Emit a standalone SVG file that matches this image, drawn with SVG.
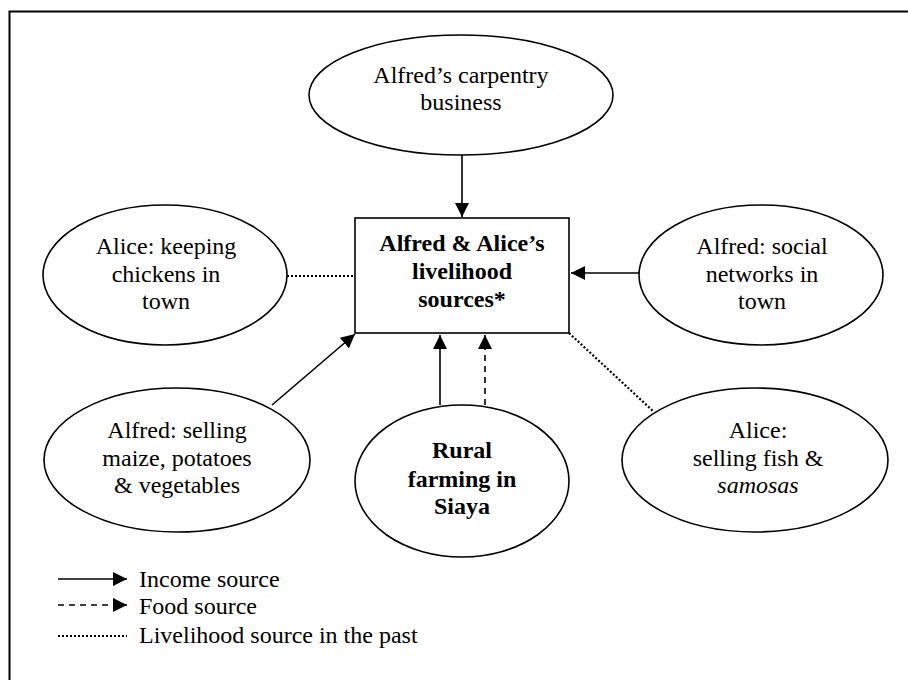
<svg xmlns="http://www.w3.org/2000/svg" width="908" height="680" viewBox="0 0 908 680">
<style>
text{font-family:"Liberation Serif","Times New Roman",serif;font-size:24px;fill:#000;text-anchor:middle}
.b{font-weight:bold}
.l{text-anchor:start}
.n{fill:#fff;stroke:#000;stroke-width:1.6}
.c{stroke:#000;stroke-width:1.6;fill:none}
.dash{stroke-dasharray:6,5}
.dot{stroke-dasharray:2,2;stroke-width:2.2}
</style>
<defs>
<marker id="ah" viewBox="0 0 10 10" refX="10" refY="5" markerWidth="14" markerHeight="14" markerUnits="userSpaceOnUse" orient="auto">
<path d="M0,0 L10,5 L0,10 z" fill="#000"/>
</marker>
</defs>
<rect width="908" height="680" fill="#fff"/>
<path d="M9.5,680 V11.5 H908" fill="none" stroke="#000" stroke-width="2"/>
<g id="connectors">
<line class="c" x1="462" y1="155" x2="462" y2="217" marker-end="url(#ah)"/>
<line class="c dot" x1="287" y1="276" x2="355" y2="276"/>
<line class="c" x1="639" y1="273" x2="571" y2="273" marker-end="url(#ah)"/>
<line class="c" x1="272" y1="405" x2="355" y2="334" marker-end="url(#ah)"/>
<line class="c" x1="440" y1="405" x2="440" y2="335" marker-end="url(#ah)"/>
<line class="c dash" x1="485" y1="405" x2="485" y2="335" marker-end="url(#ah)"/>
<line class="c dot" x1="569" y1="333" x2="653" y2="411"/>
</g>
<g id="carpentry">
<ellipse class="n" cx="461" cy="95" rx="152" ry="60"/>
<text x="461" y="83">Alfred’s carpentry</text>
<text x="461" y="110">business</text>
</g>
<g id="livelihood">
<rect class="n" x="355" y="218" width="214" height="115"/>
<text class="b" x="462" y="251">Alfred &amp; Alice’s</text>
<text class="b" x="462" y="279">livelihood</text>
<text class="b" x="462" y="307">sources*</text>
</g>
<g id="chickens">
<ellipse class="n" cx="165" cy="275" rx="122" ry="70"/>
<text x="166" y="254">Alice: keeping</text>
<text x="166" y="282">chickens in</text>
<text x="166" y="309">town</text>
</g>
<g id="social">
<ellipse class="n" cx="761" cy="275" rx="122" ry="70"/>
<text x="762" y="254">Alfred: social</text>
<text x="762" y="282">networks in</text>
<text x="762" y="309">town</text>
</g>
<g id="maize">
<ellipse class="n" cx="177" cy="460" rx="133" ry="72"/>
<text x="177" y="438">Alfred: selling</text>
<text x="177" y="466">maize, potatoes</text>
<text x="177" y="493">&amp; vegetables</text>
</g>
<g id="rural">
<ellipse class="n" cx="462" cy="481" rx="107" ry="76" stroke-width="2.6"/>
<text class="b" x="462" y="458">Rural</text>
<text class="b" x="462" y="487">farming in</text>
<text class="b" x="462" y="514">Siaya</text>
</g>
<g id="fish">
<ellipse class="n" cx="755" cy="460" rx="133" ry="72"/>
<text x="758" y="438">Alice:</text>
<text x="758" y="466">selling fish &amp;</text>
<text x="758" y="493" font-style="italic">samosas</text>
</g>
<g id="legend">
<line class="c" x1="58" y1="579" x2="127" y2="579" marker-end="url(#ah)"/>
<line class="c dash" x1="58" y1="605" x2="127" y2="605" marker-end="url(#ah)"/>
<line class="c dot" x1="58" y1="636" x2="127" y2="636"/>
<text class="l" x="139" y="587">Income source</text>
<text class="l" x="139" y="614">Food source</text>
<text class="l" x="139" y="643">Livelihood source in the past</text>
</g>
</svg>
